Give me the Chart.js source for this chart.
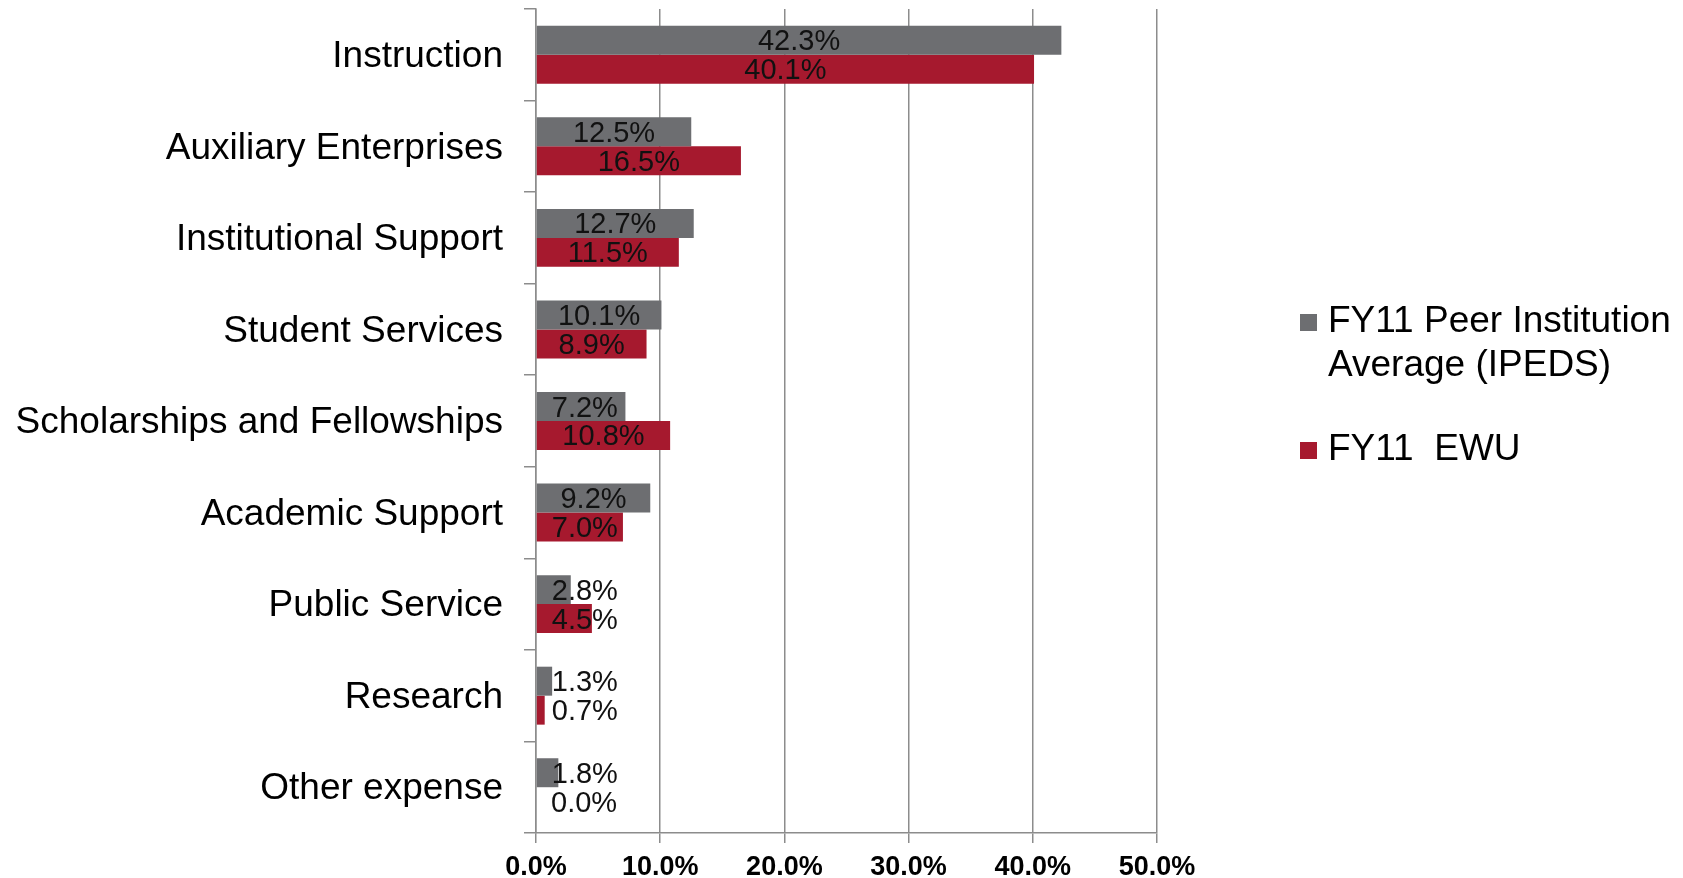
<!DOCTYPE html>
<html>
<head>
<meta charset="utf-8">
<script src="https://cdn.jsdelivr.net/npm/chart.js@4.4.0/dist/chart.umd.min.js"></script>
<style>
  body { margin: 0; background: #fff; }
  #wrap { width: 1683px; height: 878px; position: relative; }
</style>
</head>
<body>
<div id="wrap"><canvas id="chartCost"></canvas></div>
<script>
const categories = ["Instruction", "Auxiliary Enterprises", "Institutional Support", "Student Services",
    "Scholarships and Fellowships", "Academic Support", "Public Service", "Research", "Other expense"];
const peerValues = [42.3, 12.5, 12.7, 10.1, 7.2, 9.2, 2.8, 1.3, 1.8];
const ewuValues = [40.1, 16.5, 11.5, 8.9, 10.8, 7.0, 4.5, 0.7, 0.0];
const seriesNames = [["FY11 Peer Institution", "Average (IPEDS)"], ["FY11  EWU"]];
const seriesColors = ["#6d6e71", "#a6192e"];
const xTicks = [0, 10, 20, 30, 40, 50];

const FONT = "'Liberation Sans', Arial, sans-serif";
const axisGray = "#8c8c8c";

// value labels, centred in the bar but kept clear of the axis
const valueLabels = {
    id: "valueLabels",
    afterDatasetsDraw(chart) {
        const ctx = chart.ctx;
        ctx.save();
        ctx.font = "29px " + FONT;
        ctx.fillStyle = "#111";
        ctx.textBaseline = "middle";
        ctx.textAlign = "left";
        chart.data.datasets.forEach((ds, i) => {
            chart.getDatasetMeta(i).data.forEach((bar, j) => {
                const txt = ds.data[j].toFixed(1) + "%";
                const w = ctx.measureText(txt).width;
                const left = Math.max((bar.x + bar.base) / 2 - w / 2, bar.base + 15);
                ctx.fillText(txt, left, bar.y + 2);
            });
        });
        ctx.restore();
    }
};

// legend on the right, with the two-line label
const sideLegend = {
    id: "sideLegend",
    afterDraw(chart) {
        const ctx = chart.ctx;
        ctx.save();
        ctx.font = "37px " + FONT;
        ctx.textBaseline = "middle";
        const rows = [322, 450];
        seriesNames.forEach((lines, i) => {
            ctx.fillStyle = seriesColors[i];
            ctx.fillRect(1300, rows[i] - 8, 17, 17);
            ctx.fillStyle = "#000";
            lines.forEach((t, k) => ctx.fillText(t, 1328, rows[i] + k * 44));
        });
        ctx.restore();
    }
};

new Chart(document.getElementById("chartCost"), {
    type: "bar",
    data: {
        labels: categories,
        datasets: [{
            label: seriesNames[0],
            data: peerValues,
            backgroundColor: seriesColors[0]
        }, {
            label: seriesNames[1],
            data: ewuValues,
            backgroundColor: seriesColors[1]
        }]
    },
    options: {
        indexAxis: "y",
        responsive: true,
        maintainAspectRatio: false,
        animation: false,
        layout: { padding: { top: 9, right: 526, left: 0, bottom: 0 } },
        datasets: { bar: { categoryPercentage: 0.633, barPercentage: 1.0 } },
        plugins: { legend: { display: false }, tooltip: { enabled: false } },
        scales: {
            x: {
                min: 0,
                max: 50,
                afterBuildTicks: s => { s.ticks = xTicks.map(v => ({ value: v })); },
                afterFit: s => { s.height = 45; s.paddingLeft = 0; s.paddingRight = 0; },
                border: { color: axisGray, width: 1.5 },
                grid: { color: axisGray, lineWidth: 1.5, tickLength: 10 },
                ticks: {
                    padding: 8,
                    color: "#000",
                    font: { family: "'Liberation Sans Narrow', " + FONT, size: 27, weight: "bold" },
                    callback: v => v.toFixed(1) + "%"
                }
            },
            y: {
                afterFit: s => { s.width = 536; s.paddingTop = 0; s.paddingBottom = 0; },
                border: { color: axisGray, width: 1.5 },
                grid: { offset: true, drawOnChartArea: false, color: axisGray, lineWidth: 1.5, tickLength: 12 },
                ticks: {
                    padding: 21,
                    labelOffset: 2,
                    color: "#000",
                    font: { family: FONT, size: 37 }
                }
            }
        }
    },
    plugins: [valueLabels, sideLegend]
});
</script>
</body>
</html>
